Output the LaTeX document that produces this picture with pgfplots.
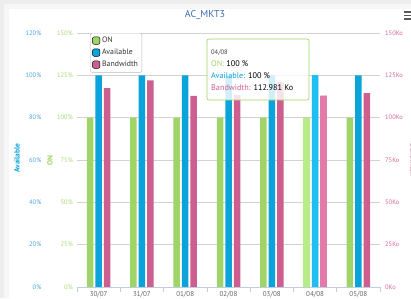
\documentclass[border=0pt]{standalone}
\usepackage{pgfplots}
\pgfplotsset{compat=1.18}
\usepackage{fontspec}
\setmainfont{PT Sans}
\definecolor{cOn}{HTML}{A0D468}
\definecolor{cAv}{HTML}{0AA3DA}
\definecolor{cBw}{HTML}{CC5F8F}
\definecolor{cOnL}{HTML}{B8EC86}
\definecolor{cAvL}{HTML}{1EBFF2}
\definecolor{cBwL}{HTML}{E37BAA}
\definecolor{tOn}{HTML}{A6D977}
\definecolor{tAv}{HTML}{4AA8E0}
\definecolor{tBw}{HTML}{D9699A}
\definecolor{ttl}{HTML}{3D6BB0}
\definecolor{gridc}{HTML}{D2D2D2}
\definecolor{axc}{HTML}{C0CCE0}
\definecolor{txg}{HTML}{666666}

\pgfplotsset{base/.style={
  scale only axis, width=303pt, height=254pt, at={(77pt,11pt)}, anchor=south west,
  xmin=-0.5, xmax=6.5, ymin=0,
  axis line style={draw=none},
  major tick length=0pt,
  ticklabel style={font=\fontsize{6.5}{7}\selectfont},
  /pgf/number format/assume math mode=true,
  xtick=\empty,
  clip=false,
}}

\begin{document}
\begin{tikzpicture}[x=1pt,y=1pt]
\useasboundingbox (0,0) rectangle (411,298);
% card background
\fill[gray!14] (0,0) rectangle (411,298);
\fill[gray!7] (4,0) rectangle (411,294);
\fill[white] (9,0) rectangle (411,289);

% ON axis (with grid and category labels)
\begin{axis}[base, ymax=150, ytick={0,25,...,150},
  yticklabel={\pgfmathprintnumber{\tick}\%},
  yticklabel style={anchor=east, inner sep=0pt, xshift=-4pt, text=tOn},
  ymajorgrids, grid style={gridc, line width=0.7pt},
  xtick={0,...,6}, xtick pos=bottom,
  xticklabels={30/07,31/07,01/08,02/08,03/08,04/08,05/08},
  xticklabel style={anchor=north, inner sep=0pt, yshift=-4pt, text=txg, font=\fontsize{7}{8}\selectfont},
]
\addplot[ybar, bar width=6.5pt, bar shift=-8.5pt, fill=cOn, draw=none] coordinates {
(0,100) (1,100) (2,100) (3,100) (4,100) (5,100) (6,100)};
\addplot[ybar, bar width=6.5pt, bar shift=-8.5pt, fill=cOnL, draw=none] coordinates {(5,100)};
\end{axis}

% Available axis
\begin{axis}[base, ymax=120, ytick={0,20,...,120},
  yticklabel={\pgfmathprintnumber{\tick}\%},
  yticklabel style={anchor=east, inner sep=0pt, xshift=-35.5pt, text=tAv},
]
\addplot[ybar, bar width=6.5pt, bar shift=0pt, fill=cAv, draw=none] coordinates {
(0,100) (1,100) (2,100) (3,100) (4,100) (5,100) (6,100)};
\addplot[ybar, bar width=6.5pt, bar shift=0pt, fill=cAvL, draw=none] coordinates {(5,100)};
\end{axis}

% Bandwidth axis
\begin{axis}[base, ymax=150, ytick={0,25,...,150}, ytick pos=right,
  yticklabel={\pgfmathprintnumber{\tick}Ko},
  yticklabel style={anchor=west, inner sep=0pt, xshift=5pt, text=tBw},
  legend style={at={(rel axis cs:0.043,1)}, anchor=north west, draw=gray!55,
    rounded corners=2pt, font=\fontsize{7.8}{9}\selectfont, inner sep=2pt,
    row sep=1pt, cells={anchor=west}, text=black!80},
  legend image code/.code={\fill[#1] (0pt,-3.6pt) rectangle (7.5pt,3.9pt);},
]
\addlegendimage{fill=cOn}\addlegendentry{ON}
\addlegendimage{fill=cAv}\addlegendentry{Available}
\addlegendimage{fill=cBw}\addlegendentry{Bandwidth}
\addplot[ybar, bar width=6.5pt, bar shift=8.5pt, fill=cBw, draw=none, forget plot] coordinates {
(0,117.5) (1,122) (2,112.8) (3,113.4) (4,121) (5,112.981) (6,114.5)};
\addplot[ybar, bar width=6.5pt, bar shift=8.5pt, fill=cBwL, draw=none, forget plot] coordinates {(5,112.981)};
\end{axis}

% x axis line and category separators
\draw[axc, line width=0.7pt] (77,11) -- (380,11);
\foreach \k in {0,...,7} \draw[axc, line width=0.6pt] ({77+43.2857*\k},11) -- ++(0,-5);

% title and axis titles
\node[text=ttl, font=\fontsize{10}{12}\selectfont] at (205,283) {AC\_MKT3};
\node[rotate=90, text=cAv, font=\fontsize{7.5}{9}\selectfont\bfseries] at (17,140) {Available};
\node[rotate=90, text=cOn, font=\fontsize{7.5}{9}\selectfont\bfseries] at (50,137) {ON};
\node[rotate=-90, text=cBw, font=\fontsize{7}{8}\selectfont\bfseries] at (413,138) {Bandwidth};

% menu icon
\foreach \yy in {279,282.5,286} \draw[black!65, line width=1.3pt] (404,\yy) -- (412,\yy);

% tooltip
\draw[draw=cOn, fill=white, fill opacity=0.82, line width=0.7pt, rounded corners=2pt] (207,259) rectangle (309,198);
\node[anchor=west, inner sep=0pt, font=\fontsize{6.5}{7}\selectfont, text=black!75] at (211,245.5) {04/08};
\node[anchor=west, inner sep=0pt, font=\fontsize{8.2}{9}\selectfont] at (211,234.5) {\textcolor{cOn}{ON:} \textcolor{black}{100 \%}};
\node[anchor=west, inner sep=0pt, font=\fontsize{8.2}{9}\selectfont] at (211,222.5) {\textcolor{cAv}{Available:} \textcolor{black}{100 \%}};
\node[anchor=west, inner sep=0pt, font=\fontsize{8.2}{9}\selectfont] at (211,210) {\textcolor{cBw}{Bandwidth:} \textcolor{black}{112.981 Ko}};
\end{tikzpicture}
\end{document}
